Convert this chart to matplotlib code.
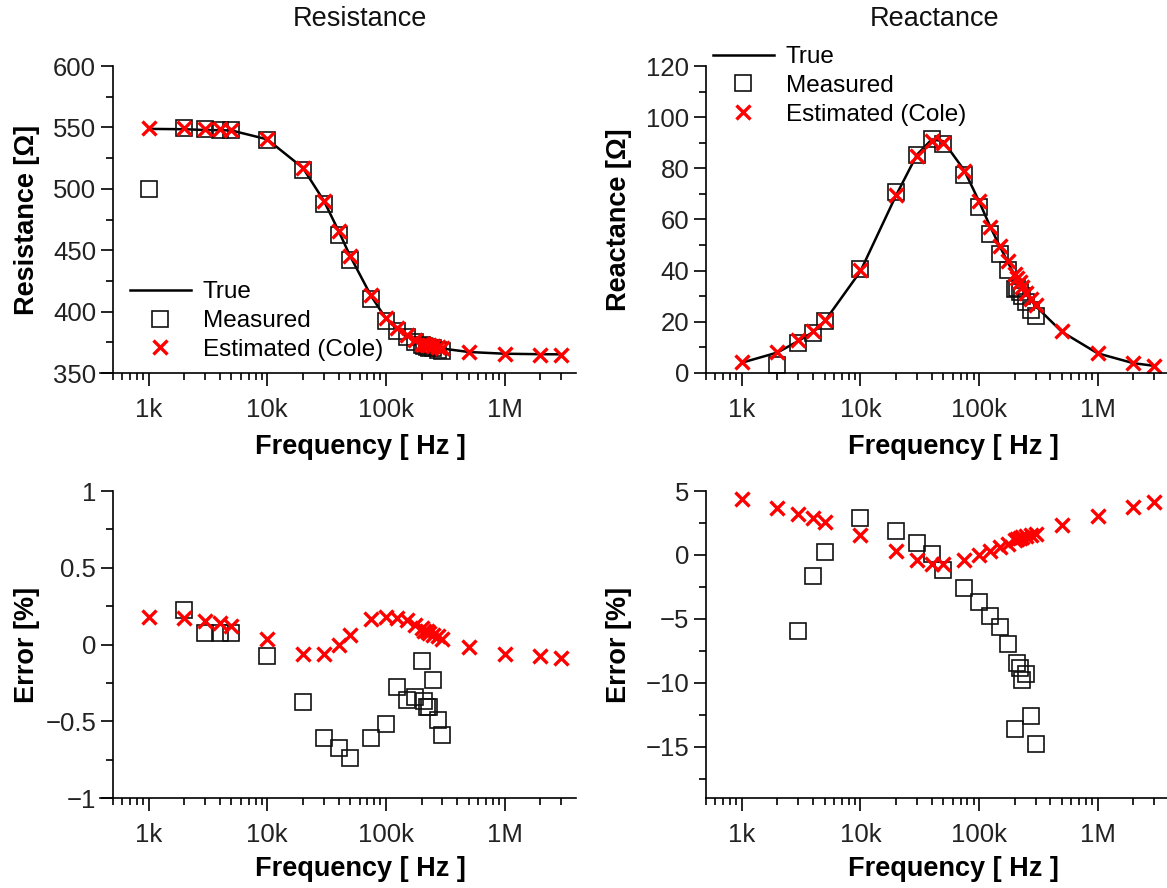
import numpy as np
import matplotlib
matplotlib.use('Agg')
import matplotlib.pyplot as plt
from matplotlib.ticker import FixedLocator, FuncFormatter, MultipleLocator, NullFormatter

plt.rcParams['font.family'] = ['Liberation Sans', 'DejaVu Sans']

# ---------------- data ----------------
freq = [1e3, 2e3, 3e3, 4e3, 5e3, 1e4, 2e4, 3e4, 4e4, 5e4, 7.5e4, 1e5, 1.25e5,
        1.5e5, 1.75e5, 2e5, 2.1e5, 2.2e5, 2.3e5, 2.5e5, 2.75e5, 3e5,
        5e5, 1e6, 2e6, 3e6]
meas_freq = freq[:22]

r_true = [548.8, 548.5, 547.9, 547.7, 547.5, 540.3, 517.0, 490.3, 465.6, 445.2,
          412.8, 394.3, 385.7, 380.4, 376.4, 373.6, 373.2, 372.7, 372.2, 371.4,
          370.6, 369.9, 367.1, 365.7, 365.3, 365.2]
r_meas = [500.0, 549.7, 548.3, 548.1, 547.9, 539.9, 515.1, 487.3, 462.5, 441.9,
          410.3, 392.3, 384.6, 379.0, 375.1, 373.2, 371.8, 371.2, 370.7, 370.5,
          368.8, 367.7]
r_est = [549.8, 549.5, 548.7, 548.5, 548.2, 540.5, 516.7, 490.0, 465.6, 445.5,
         413.5, 395.0, 386.4, 381.0, 376.9, 374.0, 373.5, 373.0, 372.5, 371.6,
         370.8, 370.0, 367.0, 365.5, 365.0, 364.9]

x_true = [4.02, 8.0, 12.5, 16.0, 20.2, 39.7, 69.4, 85.3, 91.3, 90.6, 79.3, 67.2,
          57.0, 49.5, 43.4, 38.1, 36.5, 34.9, 33.2, 30.6, 28.4, 26.2, 16.1, 7.7,
          3.85, 2.8]
x_meas = [np.nan, 3.1, 11.6, 15.8, 20.3, 40.8, 70.6, 85.4, 91.4, 89.6, 77.2,
          64.8, 54.3, 46.7, 40.4, 32.9, 33.4, 31.8, 30.0, 27.8, 24.8, 22.3]
x_est = [4.2, 8.3, 12.9, 16.45, 20.7, 40.3, 69.6, 85.0, 90.7, 90.0, 79.0, 67.2,
         57.2, 49.8, 43.8, 38.6, 37.0, 35.4, 33.7, 31.1, 28.8, 26.6, 16.5, 7.9,
         4.0, 2.9]

r_err_meas = [-8.9, 0.225, 0.078, 0.078, 0.078, -0.074, -0.374, -0.608, -0.675,
              -0.742, -0.608, -0.517, -0.275, -0.361, -0.342, -0.106, -0.37,
              -0.41, -0.41, -0.234, -0.489, -0.59]
r_err_est = [0.182, 0.175, 0.156, 0.139, 0.123, 0.037, -0.061, -0.061, -0.002,
             0.063, 0.165, 0.182, 0.175, 0.16, 0.13, 0.105, 0.09, 0.085, 0.075,
             0.065, 0.055, 0.035, -0.019, -0.061, -0.078, -0.089]

x_err_meas = [np.nan, -61.0, -5.95, -1.61, 0.21, 2.91, 1.90, 0.91, 0.08, -1.14,
              -2.62, -3.64, -4.81, -5.64, -6.94, -13.6, -8.44, -8.83, -9.74,
              -9.3, -12.6, -14.8]
x_err_est = [4.36, 3.66, 3.17, 2.86, 2.55, 1.56, 0.34, -0.39, -0.70, -0.70,
             -0.36, 0.03, 0.34, 0.65, 0.86, 1.19, 1.25, 1.30, 1.38, 1.50, 1.58,
             1.64, 2.36, 3.06, 3.77, 4.16]

major_x = [1e3, 1e4, 1e5, 1e6]
major_x_labels = ['1k', '10k', '100k', '1M']
minor_x = [m * 10 ** e for e in range(2, 7) for m in range(2, 10)
           if 500 <= m * 10 ** e <= 3e6]

# ---------------- figure ----------------
W, H = 1167, 888
fig = plt.figure(figsize=(W / 100, H / 100), dpi=100)


def fpx(x0, x1, y0, y1):
    return [x0 / W, 1 - y1 / H, (x1 - x0) / W, (y1 - y0) / H]


TICK_FS = 18.5
LEG_FS = 17.5
LABEL_FS = 19.5


def fmt(v, pos):
    v = round(v, 6)
    if v == 0:
        v = 0.0
    return f'{v:g}'.replace('-', '\u2212')


def style(ax, xlim, left_at, ylim, ymaj, ymin, ylabel, ylab_x):
    ax.set_xscale('log')
    ax.set_xlim(*xlim)
    ax.set_ylim(*ylim)
    ax.spines['top'].set_visible(False)
    ax.spines['right'].set_visible(False)
    for s in ('left', 'bottom'):
        ax.spines[s].set_linewidth(1.2)
    ax.spines['left'].set_position(('data', left_at))
    ax.xaxis.set_major_locator(FixedLocator(major_x))
    ax.xaxis.set_major_formatter(FuncFormatter(
        lambda v, p: major_x_labels[major_x.index(v)] if v in major_x else ''))
    ax.xaxis.set_minor_locator(FixedLocator(minor_x))
    ax.xaxis.set_minor_formatter(NullFormatter())
    ax.yaxis.set_major_locator(MultipleLocator(ymaj))
    ax.yaxis.set_minor_locator(MultipleLocator(ymin))
    ax.yaxis.set_major_formatter(FuncFormatter(fmt))
    ax.tick_params(axis='both', which='major', direction='out', length=9,
                   width=1.2, labelsize=TICK_FS, colors='black')
    ax.tick_params(axis='both', which='minor', direction='out', length=5,
                   width=1.2)
    ax.tick_params(axis='x', which='major', pad=9)
    ax.tick_params(axis='y', which='major', pad=3)
    for t in ax.get_xticklabels() + ax.get_yticklabels():
        t.set_color('#222222')
    ax.set_ylabel(ylabel, fontsize=LABEL_FS, fontweight='bold')
    ax.yaxis.set_label_coords(ylab_x, 0.5)
    ax.set_xlabel('Frequency [ Hz ]', fontsize=LABEL_FS, fontweight='bold')


sq_kw = dict(marker='s', ms=11.5, mfc='none', mec='#111111', mew=1.2, ls='none')
x_kw = dict(marker='x', ms=9.5, mec='#ff0000', mew=2.4, ls='none')
line_kw = dict(color='black', lw=1.8)

# Top-left: Resistance
ax1 = fig.add_axes(fpx(100, 576, 66, 373))
ax1.plot(freq, r_true, label='True', **line_kw)
ax1.plot(meas_freq, r_meas, label='Measured', **sq_kw)
ax1.plot(freq, r_est, label='Estimated (Cole)', **x_kw)
style(ax1, (390, 4e6), 500, (350, 600), 50, 25, 'Resistance [\u03a9]', -0.125)
ax1.xaxis.set_label_coords((360 - 100) / 476, -0.2)

# Top-right: Reactance
ax2 = fig.add_axes(fpx(706, 1169, 66, 373))
ax2.plot(freq, x_true, label='True', **line_kw)
ax2.plot(meas_freq, x_meas, label='Measured', **sq_kw)
ax2.plot(freq, x_est, label='Estimated (Cole)', **x_kw)
style(ax2, (500, 4e6), 500, (0, 120), 20, 10, 'Reactance [\u03a9]', -0.16)
ax2.xaxis.set_label_coords((953 - 706) / 463, -0.2)

# Bottom-left: resistance error
ax3 = fig.add_axes(fpx(100, 576, 491, 798))
ax3.plot(meas_freq, r_err_meas, **sq_kw)
ax3.plot(freq, r_err_est, **x_kw)
style(ax3, (390, 4e6), 500, (-1, 1), 0.5, 0.25, 'Error [%]', -0.125)
ax3.xaxis.set_label_coords((360 - 100) / 476, -0.19)

# Bottom-right: reactance error
ax4 = fig.add_axes(fpx(706, 1169, 491, 798))
ax4.plot(meas_freq, x_err_meas, **sq_kw)
ax4.plot(freq, x_err_est, **x_kw)
style(ax4, (500, 4e6), 500, (-19, 5), 5, 2.5, 'Error [%]', -0.16)
ax4.xaxis.set_label_coords((953 - 706) / 463, -0.19)

leg_kw = dict(frameon=False, fontsize=LEG_FS, handlelength=2.5,
              handletextpad=0.5, labelspacing=0.28, borderpad=0,
              borderaxespad=0, loc='center left',
              bbox_transform=fig.transFigure)
ax1.legend(bbox_to_anchor=(130 / W, 1 - 321 / H), **leg_kw)
ax2.legend(bbox_to_anchor=(713 / W, 1 - 86 / H), **leg_kw)

fig.text(360 / W, 1 - 19 / H, 'Resistance', fontsize=LABEL_FS, ha='center',
         va='center', color='#111111')
fig.text(935 / W, 1 - 19 / H, 'Reactance', fontsize=LABEL_FS, ha='center',
         va='center', color='#111111')

fig.savefig('out.png', dpi=100)
